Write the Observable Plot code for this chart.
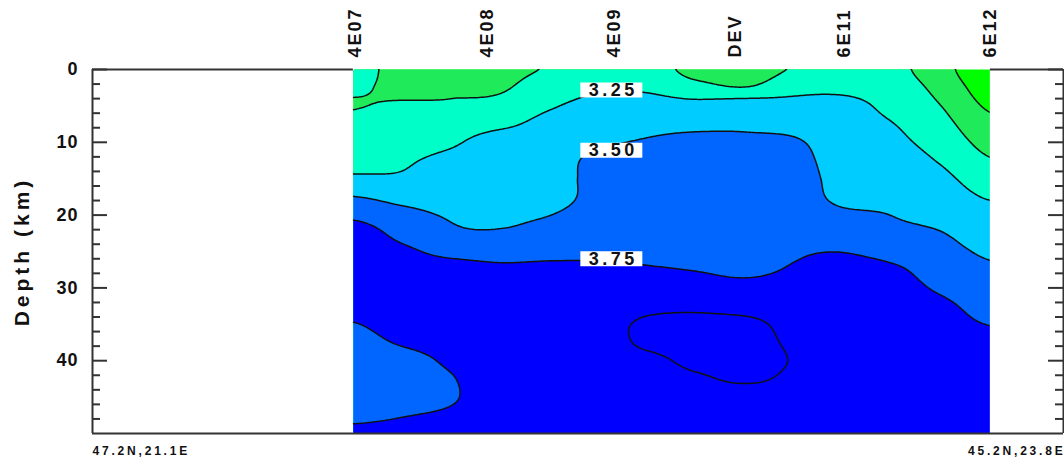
<!DOCTYPE html>
<html><head><meta charset="utf-8">
<script src="https://cdn.jsdelivr.net/npm/d3@7"></script>
<script src="https://cdn.jsdelivr.net/npm/@observablehq/plot@0.6"></script>
<style>
html,body{margin:0;padding:0;background:#fff;}
svg{display:block;}
</style></head><body>
<script>
// ---- data ----
const profileKm = [0, 300];                       // profile length (km)
const endLabels = ["47.2N,21.1E", "45.2N,23.8E"];
const stations = ["4E07", "4E08", "4E09", "DEV", "6E11", "6E12"];
const stationKm = [79.1, 119.9, 159.0, 196.5, 230.2, 275.3];
const depthDomain = [0, 50];
const depthTicks = [0, 10, 20, 30, 40];
const minorDepthTicks = [2, 4, 6, 8, 12, 14, 16, 18, 22, 24, 26, 28, 32, 34, 36, 38, 42, 44, 46, 48];
const gridKm = [80.6, 95.7, 110.9, 126.0, 141.2, 156.3, 171.4, 186.6, 201.7, 216.8, 232.0, 247.1, 262.3, 277.4];
const gridDepth = [0, 2.5, 5, 7.5, 10, 12.5, 15, 17.5, 20, 22.5, 25, 27.5, 30, 32.5, 35, 37.5, 40, 42.5, 45, 47.5, 50];
// shear velocity (km/s), one row per depth, one column per gridKm
const velocity = [
  [3.08, 2.93, 2.95, 2.94, 3.02, 3.12, 3.14, 2.90, 2.86, 3.02, 3.05, 3.06, 2.848, 2.51],
  [3.02, 2.97, 2.98, 2.975, 3.128, 3.218, 3.218, 3.092, 3.01, 3.175, 3.187, 3.12, 2.924, 2.611],
  [2.995, 3.016, 3.021, 3.07, 3.225, 3.318, 3.339, 3.328, 3.40, 3.33, 3.325, 3.181, 2.999, 2.712],
  [3.04, 3.083, 3.119, 3.199, 3.324, 3.392, 3.429, 3.446, 3.468, 3.428, 3.35, 3.257, 3.076, 2.817],
  [3.08, 3.150, 3.217, 3.371, 3.359, 3.467, 3.519, 3.563, 3.537, 3.526, 3.37, 3.305, 3.152, 2.918],
  [3.125, 3.217, 3.314, 3.400, 3.39, 3.56, 3.554, 3.590, 3.566, 3.58, 3.38, 3.353, 3.229, 3.017],
  [3.30, 3.284, 3.370, 3.429, 3.39, 3.58, 3.589, 3.616, 3.595, 3.62, 3.40, 3.401, 3.305, 3.123],
  [3.505, 3.428, 3.426, 3.458, 3.38, 3.60, 3.623, 3.643, 3.623, 3.66, 3.42, 3.449, 3.372, 3.229],
  [3.70, 3.572, 3.482, 3.487, 3.497, 3.643, 3.658, 3.669, 3.652, 3.68, 3.56, 3.497, 3.439, 3.335],
  [3.86, 3.682, 3.538, 3.515, 3.56, 3.686, 3.693, 3.696, 3.681, 3.70, 3.65, 3.558, 3.507, 3.387],
  [3.88, 3.793, 3.689, 3.657, 3.683, 3.729, 3.728, 3.722, 3.700, 3.732, 3.745, 3.671, 3.578, 3.463],
  [3.87, 3.83, 3.839, 3.798, 3.805, 3.771, 3.762, 3.745, 3.72, 3.766, 3.83, 3.785, 3.648, 3.538],
  [3.84, 3.85, 3.87, 3.85, 3.86, 3.82, 3.853, 3.83, 3.80, 3.82, 3.86, 3.83, 3.719, 3.608],
  [3.80, 3.84, 3.87, 3.88, 3.90, 3.87, 3.945, 3.959, 3.913, 3.88, 3.89, 3.86, 3.79, 3.678],
  [3.744, 3.81, 3.85, 3.90, 3.92, 3.92, 4.036, 4.057, 4.058, 3.93, 3.91, 3.88, 3.82, 3.745],
  [3.70, 3.765, 3.82, 3.90, 3.93, 3.93, 4.03, 4.07, 4.07, 3.97, 3.92, 3.89, 3.84, 3.81],
  [3.66, 3.694, 3.78, 3.89, 3.93, 3.93, 3.958, 4.04, 4.06, 3.99, 3.92, 3.89, 3.85, 3.83],
  [3.65, 3.68, 3.74, 3.87, 3.92, 3.93, 3.93, 3.977, 4.02, 3.97, 3.91, 3.89, 3.86, 3.84],
  [3.68, 3.70, 3.735, 3.85, 3.90, 3.92, 3.91, 3.94, 3.935, 3.94, 3.90, 3.88, 3.86, 3.85],
  [3.72, 3.745, 3.772, 3.84, 3.88, 3.91, 3.90, 3.92, 3.91, 3.92, 3.89, 3.88, 3.86, 3.85],
  [3.78, 3.79, 3.80, 3.84, 3.87, 3.90, 3.89, 3.91, 3.90, 3.91, 3.88, 3.87, 3.86, 3.85]
];
const baseLevel = 2.0;
const contourLevels = [2.75, 3.0, 3.25, 3.5, 3.75, 4.0];
const levelColors = ["#00ff00", "#1eea5a", "#00ffc8", "#00ccff", "#0066ff", "#0000ff", "#0000ff"];
const labelLevels = [3.25, 3.5, 3.75];
const labelKm = [160.3, 160.3, 160.3];
const labelDepth = [2.82, 11.1, 26.0];

// ---- table for the library ----
const samples = gridDepth.flatMap((d, i) => gridKm.map((x, j) => ({x, depth: d, v: velocity[i][j]})));

function catmull(p0, p1, p2, p3, t) {
  return 0.5 * (2 * p1 + (-p0 + p2) * t + (2 * p0 - 5 * p1 + 4 * p2 - p3) * t * t + (-p0 + 3 * p1 - 3 * p2 + p3) * t * t * t);
}
// bicubic interpolation of the regular sample grid onto Plot's raster
function bicubicGrid(index, w, h, X, Y, V) {
  const nc = gridKm.length, nr = gridDepth.length;
  const gx0 = X[index[0]], gx1 = X[index[nc - 1]];
  const gy0 = Y[index[0]], gy1 = Y[index[(nr - 1) * nc]];
  const at = (i, j) => V[index[Math.max(0, Math.min(nr - 1, i)) * nc + Math.max(0, Math.min(nc - 1, j))]];
  const out = new Float64Array(w * h);
  const cols = new Array(4);
  for (let py = 0; py < h; ++py) {
    let fy = (py + 0.5 - gy0) / (gy1 - gy0) * (nr - 1);
    fy = Math.max(0, Math.min(nr - 1, fy));
    const i = Math.min(nr - 2, Math.floor(fy)), ty = fy - i;
    for (let px = 0; px < w; ++px) {
      let fx = (px + 0.5 - gx0) / (gx1 - gx0) * (nc - 1);
      fx = Math.max(0, Math.min(nc - 1, fx));
      const j = Math.min(nc - 2, Math.floor(fx)), tx = fx - j;
      for (let m = -1; m <= 2; ++m) cols[m + 1] = catmull(at(i + m, j - 1), at(i + m, j), at(i + m, j + 1), at(i + m, j + 2), tx);
      out[py * w + px] = catmull(cols[0], cols[1], cols[2], cols[3], ty);
    }
  }
  return out;
}

const W = 1064, H = 462, mL = 92, mR = 1, mT = 69, mB = 29;
const frameW = W - mL - mR;
const font = "'Liberation Sans', Arial, Helvetica, sans-serif";
const dataX0 = gridKm[0], dataX1 = gridKm[gridKm.length - 1];
const midDepth = (depthDomain[0] + depthDomain[1]) / 2;

const chart = Plot.plot({
  width: W, height: H,
  marginLeft: mL, marginRight: mR, marginTop: mT, marginBottom: mB,
  style: {fontFamily: font, background: "white", color: "#222"},
  x: {domain: profileKm, axis: null},
  y: {domain: depthDomain, reverse: true, axis: null},
  color: {type: "threshold", domain: contourLevels, range: levelColors},
  marks: [
    Plot.contour(samples, {
      x: "x", y: "depth", fill: "v",
      thresholds: [baseLevel, ...contourLevels],
      interpolate: bicubicGrid,
      x1: dataX0, x2: dataX1, y1: depthDomain[0], y2: depthDomain[1],
      stroke: "none"
    }),
    Plot.contour(samples, {
      x: "x", y: "depth", value: "v",
      thresholds: contourLevels,
      interpolate: bicubicGrid,
      x1: dataX0 - 3, x2: dataX1 + 3, y1: depthDomain[0] - 1, y2: depthDomain[1] + 1,
      fill: "none", stroke: "#111", strokeWidth: 1.5, clip: true
    }),
    // no-data areas either side of the section
    Plot.rect([[profileKm[0], dataX0], [dataX1, profileKm[1]]], {
      x1: d => d[0], x2: d => d[1], y1: depthDomain[0], y2: depthDomain[1], fill: "white"
    }),
    // frame
    Plot.ruleX([profileKm[0], profileKm[1]], {stroke: "#333", strokeWidth: 2}),
    Plot.ruleY([depthDomain[1]], {stroke: "#333", strokeWidth: 2}),
    Plot.ruleY([[profileKm[0], dataX0], [dataX1, profileKm[1]]], {
      y: () => depthDomain[0], x1: d => d[0], x2: d => d[1], stroke: "#333", strokeWidth: 2
    }),
    // ticks (inward)
    Plot.ruleY(depthTicks, {stroke: "#333", strokeWidth: 2, insetRight: frameW - 15}),
    Plot.ruleY(minorDepthTicks, {stroke: "#333", strokeWidth: 2, insetRight: frameW - 8}),
    Plot.ruleY(depthTicks, {stroke: "#333", strokeWidth: 2, insetLeft: frameW - 15}),
    Plot.ruleY(minorDepthTicks, {stroke: "#333", strokeWidth: 2, insetLeft: frameW - 8}),
    // contour labels
    Plot.dot(labelLevels, {
      x: (d, i) => labelKm[i], y: (d, i) => labelDepth[i], r: 5, fill: "white", stroke: "none",
      symbol: {draw(ctx) { ctx.rect(-31, -7.5, 62, 15); }}
    }),
    Plot.text(labelLevels, {
      x: (d, i) => labelKm[i], y: (d, i) => labelDepth[i], text: d => d.toFixed(2),
      fontSize: 18, fontWeight: "bold", fill: "#111", dx: 2
    }),
    // station labels
    Plot.text(stations, {
      x: (d, i) => stationKm[i], frameAnchor: "top", rotate: -90, textAnchor: "start",
      dy: -12, text: d => d, fontSize: 18, fontWeight: "bold", fill: "#111"
    }),
    // depth tick labels
    Plot.text(depthTicks, {
      y: d => d, frameAnchor: "left", textAnchor: "end", dx: -14, text: d => String(d),
      fontSize: 18, fontWeight: "bold", fill: "#111"
    }),
    Plot.text(["Depth (km)"], {
      y: () => midDepth, frameAnchor: "left", rotate: -90, textAnchor: "middle", dx: -70, text: d => d,
      fontSize: 21, fontWeight: "bold", fill: "#111"
    }),
    Plot.text([endLabels[0]], {
      frameAnchor: "bottom-left", textAnchor: "start", dy: 21, text: d => d,
      fontSize: 12, fontWeight: "bold", fill: "#111"
    }),
    Plot.text([endLabels[1]], {
      frameAnchor: "bottom-right", textAnchor: "end", dy: 21, dx: 2, text: d => d,
      fontSize: 12, fontWeight: "bold", fill: "#111"
    })
  ]
});

// letter spacing of the GMT-style lettering
d3.select(chart).selectAll("text").each(function () {
  const t = this.textContent;
  let s = null;
  if (stations.includes(t)) s = "2px";
  else if (t === "Depth (km)") s = "4px";
  else if (endLabels.includes(t)) s = "2.8px";
  else if (labelLevels.map(d => d.toFixed(2)).includes(t)) s = "3.5px";
  else if (depthTicks.map(String).includes(t)) s = "1px";
  if (s) this.style.letterSpacing = s;
});
document.body.appendChild(chart);
</script>
</body></html>
